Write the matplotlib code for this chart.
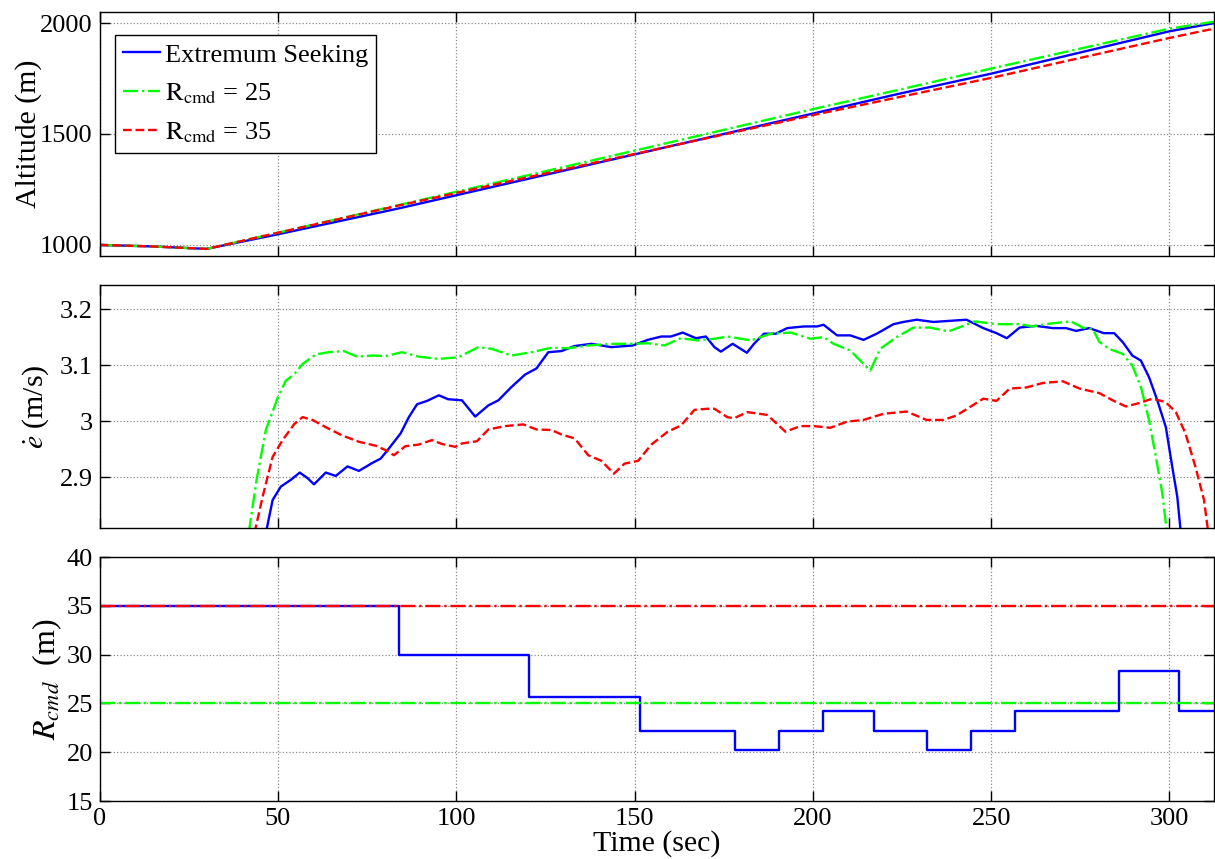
import matplotlib
matplotlib.use("Agg")
import matplotlib.pyplot as plt
import numpy as np

plt.rcParams['font.family'] = ['Liberation Serif', 'DejaVu Serif']
plt.rcParams['mathtext.fontset'] = 'stix'
plt.rcParams['font.size'] = 19

# ---------------- data ----------------
# Altitude panel
alt_t = [0, 15, 30, 50, 84, 150, 200, 223.5, 250, 300, 312.5]
alt_es = [1000, 993, 982, 1048, 1165, 1408, 1592, 1679, 1772, 1963, 2000]
alt_r25 = [1000, 993, 982, 1055, 1180, 1425, 1612, 1697, 1795, 1975, 2006]
alt_r35 = [1000, 993, 982, 1055, 1178, 1410, 1585, 1664, 1753, 1933, 1975]

# e-dot panel
ed_es_t = [46.6, 48.5, 50.8, 53.6, 56.1, 58.3, 60.1, 63.4, 66.2, 69.5, 72.7, 76.4, 78.8,
           81.1, 84.4, 86.7, 89.0, 91.8, 95.1, 97.7, 101.6, 105.3, 109.0, 111.8, 115.5,
           119.3, 122.5, 125.8, 129.5, 133.2, 137.9, 143.5, 149.5, 153.7, 157.5, 160.2,
           163.5, 167.2, 170.0, 172.4, 174.2, 177.5, 181.5, 183.5, 186.3, 189.6, 192.8,
           197.5, 201.2, 203.0, 206.8, 210.5, 214.2, 217.9, 222.6, 225.4, 229.1, 233.8,
           238.4, 243.1, 247.8, 251.5, 254.4, 258.0, 262.6, 267.3, 271.0, 273.8, 277.5,
           281.6, 284.5, 286.9, 289.6, 292.0, 294.3, 296.6, 299.0, 300.8, 302.2, 303.2]
ed_es = [2.80, 2.859, 2.883, 2.895, 2.908, 2.898, 2.887, 2.908, 2.902, 2.919, 2.911, 2.925,
         2.933, 2.951, 2.978, 3.007, 3.030, 3.036, 3.046, 3.039, 3.037, 3.008, 3.028, 3.037,
         3.061, 3.083, 3.094, 3.123, 3.125, 3.134, 3.138, 3.132, 3.135, 3.145, 3.151, 3.151,
         3.158, 3.148, 3.151, 3.132, 3.124, 3.138, 3.122, 3.138, 3.156, 3.156, 3.166, 3.169,
         3.169, 3.172, 3.153, 3.153, 3.145, 3.156, 3.173, 3.177, 3.181, 3.177, 3.179, 3.181,
         3.166, 3.157, 3.148, 3.167, 3.170, 3.166, 3.166, 3.161, 3.166, 3.157, 3.157, 3.141,
         3.117, 3.108, 3.078, 3.037, 2.989, 2.918, 2.865, 2.80]

ed_r25_t = [41.8, 44.0, 46.6, 50.0, 52.2, 54.6, 56.9, 60.6, 64.3, 68.5, 72.2, 76.5, 80.2,
            84.8, 89.5, 95.1, 100.6, 106.2, 109.9, 115.5, 121.1, 126.7, 131.4, 137.0,
            144.4, 150.0, 153.7, 158.4, 163.0, 167.7, 172.4, 176.1, 182.6, 188.2, 193.8,
            199.4, 203.0, 205.8, 210.5, 213.3, 216.1, 218.9, 223.5, 228.2, 232.9, 238.0,
            242.2, 245.4, 251.5, 258.0, 261.7, 266.4, 272.4, 275.7, 278.5, 280.4, 283.1,
            286.9, 289.6, 292.0, 294.3, 296.2, 298.0, 299.3]
ed_r25 = [2.80, 2.895, 2.984, 3.043, 3.072, 3.084, 3.102, 3.119, 3.123, 3.125, 3.115, 3.117,
          3.116, 3.123, 3.115, 3.111, 3.114, 3.132, 3.129, 3.117, 3.123, 3.131, 3.130, 3.135,
          3.138, 3.138, 3.139, 3.135, 3.148, 3.144, 3.147, 3.151, 3.144, 3.156, 3.158, 3.147,
          3.150, 3.138, 3.126, 3.108, 3.090, 3.129, 3.150, 3.167, 3.167, 3.160, 3.170, 3.178,
          3.173, 3.173, 3.169, 3.174, 3.178, 3.167, 3.164, 3.141, 3.129, 3.120, 3.099, 3.061,
          3.001, 2.936, 2.871, 2.80]

ed_r35_t = [43.4, 45.7, 48.5, 51.3, 54.6, 56.9, 59.7, 63.4, 68.1, 72.7, 77.4, 80.2, 82.5,
            85.7, 89.5, 93.2, 96.0, 99.7, 101.6, 105.8, 109.0, 113.7, 118.8, 122.5, 126.7,
            129.5, 133.2, 137.0, 140.7, 144.2, 147.2, 151.0, 154.7, 159.3, 163.0, 166.8,
            170.5, 172.4, 176.0, 177.9, 181.6, 187.2, 192.3, 196.5, 200.3, 204.9, 209.6,
            214.2, 219.8, 226.3, 231.9, 236.6, 240.3, 247.8, 251.5, 255.2, 259.9, 264.5,
            270.1, 274.8, 280.3, 284.1, 287.8, 291.5, 295.2, 298.9, 301.8, 304.5, 307.3,
            309.7, 310.9]
ed_r35 = [2.80, 2.865, 2.936, 2.966, 2.995, 3.007, 3.002, 2.989, 2.974, 2.963, 2.956, 2.948,
          2.939, 2.955, 2.958, 2.966, 2.959, 2.954, 2.960, 2.964, 2.985, 2.991, 2.994, 2.985,
          2.984, 2.976, 2.969, 2.939, 2.929, 2.906, 2.924, 2.929, 2.958, 2.981, 2.992, 3.020,
          3.022, 3.022, 3.007, 3.005, 3.016, 3.011, 2.981, 2.991, 2.991, 2.988, 2.999, 3.002,
          3.013, 3.017, 3.002, 3.002, 3.010, 3.040, 3.036, 3.058, 3.060, 3.068, 3.071, 3.058,
          3.050, 3.037, 3.026, 3.032, 3.040, 3.034, 3.016, 2.978, 2.918, 2.859, 2.80]

# R_cmd panel (step changes)
rc_es_t = [0, 84.0, 120.5, 151.5, 178.2, 190.4, 202.8, 217.2, 232.0, 244.3, 256.6, 285.9, 302.8, 312.5]
rc_es = [35, 30, 25.7, 22.2, 20.2, 22.2, 24.25, 22.2, 20.2, 22.2, 24.25, 28.3, 24.25, 24.25]
rc_r25 = 25
rc_r35 = 35

t_end = 312.5

# ---------------- figure ----------------
W, H = 1215, 859
fig = plt.figure(figsize=(W / 100, H / 100), dpi=100)

def ax_at(left, top, right, bottom):
    return fig.add_axes([left / W, 1 - bottom / H, (right - left) / W, (bottom - top) / H])

ax1 = ax_at(99.7, 12, 1214, 256)
ax2 = ax_at(99.7, 285, 1214, 528)
ax3 = ax_at(99.7, 557, 1214, 801)

lw = 1.7
lab_fs = 21.5
for ax in (ax1, ax2, ax3):
    ax.set_xlim(0, t_end)
    ax.set_xticks([0, 50, 100, 150, 200, 250, 300])
    ax.grid(True, linestyle=':', color='#8a8a8a', linewidth=0.9)
    ax.tick_params(direction='in', top=True, right=True, length=7, width=1, pad=5)
    for s in ax.spines.values():
        s.set_linewidth(1.0)
    ax.set_axisbelow(True)

# Top panel
ax1.plot(alt_t, alt_es, color='#0000ff', lw=lw, ls='-', label='Extremum Seeking')
ax1.plot(alt_t, alt_r25, color='#00ff00', lw=lw, ls='-.', label=r'$\mathrm{R_{cmd}}$ = 25')
ax1.plot(alt_t, alt_r35, color='#ff0000', lw=lw, ls='--', label=r'$\mathrm{R_{cmd}}$ = 35')
ax1.set_ylim(950, 2050)
ax1.set_yticks([1000, 1500, 2000])
ax1.set_xticklabels([])
ax1.set_ylabel('Altitude (m)', fontsize=lab_fs, labelpad=-1)
leg = ax1.legend(loc='upper left', bbox_to_anchor=(0.0137, 0.905), borderaxespad=0,
                 fancybox=False, edgecolor='black', framealpha=1, handlelength=1.4,
                 handletextpad=0.2, labelspacing=0.55, borderpad=0.3)
leg.get_frame().set_linewidth(1.0)

# Middle panel
ax2.plot(ed_es_t, ed_es, color='#0000ff', lw=lw, ls='-')
ax2.plot(ed_r25_t, ed_r25, color='#00ff00', lw=lw, ls='-.')
ax2.plot(ed_r35_t, ed_r35, color='#ff0000', lw=lw, ls='--')
ax2.set_ylim(2.809, 3.243)
ax2.set_yticks([2.9, 3.0, 3.1, 3.2])
ax2.set_yticklabels(['2.9', '3', '3.1', '3.2'])
ax2.set_xticklabels([])
ax2.set_ylabel(r'$\dot{e}$ (m/s)', fontsize=lab_fs, labelpad=6)

# Bottom panel
ax3.step(rc_es_t, rc_es, where='post', color='#0000ff', lw=lw, ls='-')
ax3.plot([0, t_end], [rc_r25, rc_r25], color='#00ff00', lw=lw, ls='-.')
ax3.plot([0, t_end], [rc_r35, rc_r35], color='#ff0000', lw=lw, ls='-.')
ax3.set_ylim(15, 40)
ax3.set_yticks([15, 20, 25, 30, 35, 40])
ax3.set_xlabel('Time (sec)', fontsize=lab_fs, labelpad=0)
ax3.set_ylabel(r'$R_{cmd}$  (m)', fontsize=23, labelpad=2)

fig.savefig('out.png', dpi=100)
